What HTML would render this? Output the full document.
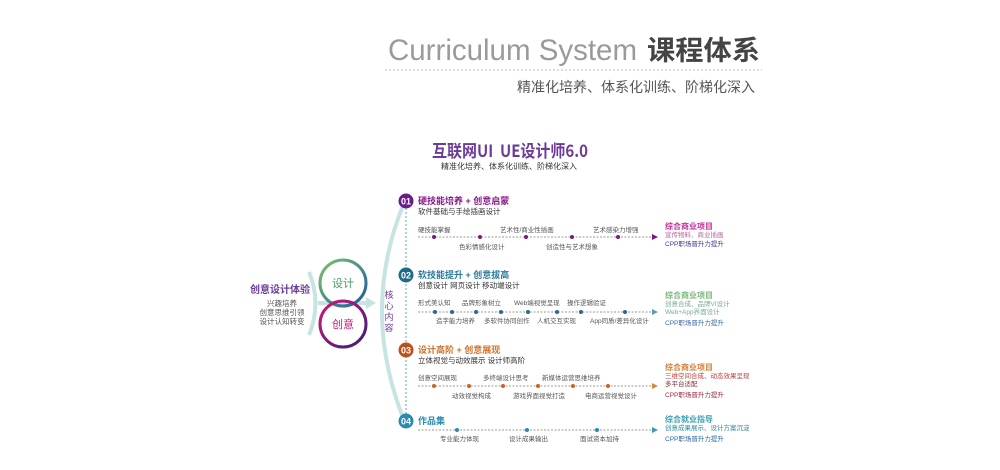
<!DOCTYPE html>
<html><head><meta charset="utf-8"><style>
html,body{margin:0;padding:0;background:#fff;width:1000px;height:470px;overflow:hidden}
svg{display:block}
text{font-family:"Liberation Sans","Noto Sans CJK SC",sans-serif}
.cj{font-family:"Noto Sans CJK SC",sans-serif}
</style></head><body>
<svg width="1000" height="470" viewBox="0 0 1000 470" xmlns="http://www.w3.org/2000/svg">
<defs>
<linearGradient id="g1" x1="0" y1="0" x2="1" y2="1"><stop offset="0" stop-color="#7cc46a"/><stop offset="1" stop-color="#1d5aa0"/></linearGradient>
<linearGradient id="g2" x1="0" y1="0" x2="1" y2="1"><stop offset="0" stop-color="#d0187a"/><stop offset="1" stop-color="#3a1c7a"/></linearGradient>
</defs>
<!-- header -->
<text x="388" y="60" font-size="30" fill="#9a9a9a" textLength="249" lengthAdjust="spacingAndGlyphs">Curriculum System</text>
<text x="647" y="60" font-size="27" font-weight="bold" fill="#444" class="cj" textLength="113" lengthAdjust="spacingAndGlyphs">课程体系</text>
<line x1="385" y1="70" x2="762" y2="70" stroke="#bbb" stroke-width="1" stroke-dasharray="2,2"/>
<text x="755" y="92" font-size="14" fill="#555" text-anchor="end" class="cj">精准化培养、体系化训练、阶梯化深入</text>
<!-- main title -->
<text x="432" y="157" font-size="17" font-weight="bold" fill="#6b3b9a" class="cj" textLength="156" lengthAdjust="spacingAndGlyphs">互联网UI&#160;&#160;UE设计师6.0</text>
<text x="441" y="169" font-size="8" fill="#333" class="cj" textLength="136" lengthAdjust="spacingAndGlyphs">精准化培养、体系化训练、阶梯化深入</text>
<!-- left -->
<text x="280" y="293" font-size="10" fill="#6b3b9a" text-anchor="middle" font-weight="bold" class="cj">创意设计体验</text>
<text x="282" y="306" font-size="7.5" fill="#555" text-anchor="middle" class="cj">兴趣培养</text>
<text x="282" y="315" font-size="7.5" fill="#555" text-anchor="middle" class="cj">创意思维引领</text>
<text x="282" y="324" font-size="7.5" fill="#555" text-anchor="middle" class="cj">设计认知转变</text>
<path d="M309 272 Q322 303 309 335" fill="none" stroke="#c7e3e2" stroke-width="4"/>
<line x1="318" y1="303" x2="368" y2="303" stroke="#c7e3e2" stroke-width="4"/>
<polygon points="366,297 376,303 366,309" fill="#c7e3e2"/>
<circle cx="343" cy="283" r="23" fill="none" stroke="url(#g1)" stroke-width="3"/>
<circle cx="343" cy="324" r="23" fill="none" stroke="url(#g2)" stroke-width="3"/>
<text x="343" y="287" font-size="11" fill="#4a9a6a" text-anchor="middle" class="cj">设计</text>
<text x="343" y="328" font-size="11" fill="#c0207a" text-anchor="middle" class="cj">创意</text>
<!-- big arc -->
<path d="M404 203 Q360 310 404 420" fill="none" stroke="#c7e3e2" stroke-width="4"/>
<text x="389" y="298" font-size="9" fill="#6b3b9a" text-anchor="middle" class="cj">核</text>
<text x="389" y="309" font-size="9" fill="#6b3b9a" text-anchor="middle" class="cj">心</text>
<text x="389" y="320" font-size="9" fill="#6b3b9a" text-anchor="middle" class="cj">内</text>
<text x="389" y="331" font-size="9" fill="#6b3b9a" text-anchor="middle" class="cj">容</text>
<line x1="406" y1="208" x2="406" y2="414" stroke="#a9d6d9" stroke-width="2" stroke-dasharray="2,2"/>
<!-- numbered circles -->
<circle cx="406" cy="201" r="7.5" fill="#6a1a8a"/><text x="406" y="204.5" font-size="9" fill="#fff" text-anchor="middle" font-weight="bold">01</text>
<circle cx="406" cy="275" r="7.5" fill="#1f6a8a"/><text x="406" y="278.5" font-size="9" fill="#fff" text-anchor="middle" font-weight="bold">02</text>
<circle cx="406" cy="350" r="7.5" fill="#c0501a"/><text x="406" y="353.5" font-size="9" fill="#fff" text-anchor="middle" font-weight="bold">03</text>
<circle cx="406" cy="421" r="7.5" fill="#2a8ab0"/><text x="406" y="424.5" font-size="9" fill="#fff" text-anchor="middle" font-weight="bold">04</text>

<g class="cj">
<!-- row1 -->
<text x="418" y="204" font-size="9" font-weight="bold" fill="#8a1a8a">硬技能培养 + 创意启蒙</text>
<text x="418" y="214" font-size="7.5" fill="#333">软件基础与手绘插画设计</text>
<g font-size="6.5" fill="#555">
<text x="418" y="232">硬技能掌握</text><text x="500" y="232">艺术性/商业性插画</text><text x="593" y="232">艺术感染力增强</text>
<text x="459" y="249">色彩情感化设计</text><text x="546" y="249">创造性与艺术想象</text>
</g>
<line x1="418" y1="237" x2="653" y2="237" stroke="#999" stroke-dasharray="2,1.5" stroke-width="1"/>
<polygon points="652,234 658,237 652,240" fill="#7a1a7a"/>
<g fill="#7a1a7a"><circle cx="434" cy="237" r="2"/><circle cx="480" cy="237" r="2"/><circle cx="526" cy="237" r="2"/><circle cx="572" cy="237" r="2"/><circle cx="618" cy="237" r="2"/></g>
<text x="665" y="229" font-size="8" font-weight="bold" fill="#c0309a">综合商业项目</text>
<text x="665" y="237" font-size="6.5" fill="#c060a0">宣传物料、商业插画</text>
<text x="665" y="246" font-size="6.5" fill="#3a3a9a">CPP职场晋升力提升</text>

<!-- row2 -->
<text x="418" y="278" font-size="9" font-weight="bold" fill="#2a7a9a">软技能提升 + 创意拔高</text>
<text x="418" y="288" font-size="7.5" fill="#333">创意设计 网页设计 移动端设计</text>
<g font-size="6.5" fill="#555">
<text x="418" y="305">形式美认知</text><text x="462" y="305">品牌形象树立</text><text x="514" y="305">Web端视觉呈现</text><text x="567" y="305">操作逻辑验证</text>
<text x="436" y="323">造字能力培养</text><text x="484" y="323">多软件协同创作</text><text x="537" y="323">人机交互实现</text><text x="590" y="323">App同质/差异化设计</text>
</g>
<line x1="418" y1="312" x2="653" y2="312" stroke="#999" stroke-dasharray="2,1.5"/>
<polygon points="652,309 658,312 652,315" fill="#5aa0a0"/>
<g fill="#2a6a8a"><circle cx="435" cy="312" r="2"/><circle cx="452" cy="312" r="2"/><circle cx="476" cy="312" r="2"/><circle cx="501" cy="312" r="2"/><circle cx="528" cy="312" r="2"/><circle cx="557" cy="312" r="2"/><circle cx="581" cy="312" r="2"/><circle cx="625" cy="312" r="2"/></g>
<text x="665" y="298" font-size="8" font-weight="bold" fill="#7ab87a">综合商业项目</text>
<text x="665" y="306" font-size="6.5" fill="#7aaa9a">创意合成、品牌VI设计</text>
<text x="665" y="314" font-size="6.5" fill="#7aaa9a">Web+App界面设计</text>
<text x="665" y="325" font-size="6.5" fill="#3a6aaa">CPP职场晋升力提升</text>

<!-- row3 -->
<text x="418" y="353" font-size="9" font-weight="bold" fill="#d0702a">设计高阶 + 创意展现</text>
<text x="418" y="363" font-size="7.5" fill="#333">立体视觉与动效展示 设计师高阶</text>
<g font-size="6.5" fill="#555">
<text x="418" y="380">创意空间展现</text><text x="483" y="380">多终端设计思考</text><text x="542" y="380">新媒体运营思维培养</text>
<text x="452" y="398">动效视觉构成</text><text x="513" y="398">游戏界面视觉打造</text><text x="585" y="398">电商运营视觉设计</text>
</g>
<line x1="418" y1="386" x2="653" y2="386" stroke="#999" stroke-dasharray="2,1.5"/>
<polygon points="652,383 658,386 652,389" fill="#d08a3a"/>
<g fill="#d0602a"><circle cx="434" cy="386" r="2"/><circle cx="469" cy="386" r="2"/><circle cx="503" cy="386" r="2"/><circle cx="538" cy="386" r="2"/><circle cx="573" cy="386" r="2"/><circle cx="608" cy="386" r="2"/></g>
<text x="665" y="370" font-size="8" font-weight="bold" fill="#d0803a">综合商业项目</text>
<text x="665" y="378" font-size="6.5" fill="#c04040">三维空间合成、动态效果呈现</text>
<text x="665" y="386" font-size="6.5" fill="#8a2a2a">多平台适配</text>
<text x="665" y="397" font-size="6.5" fill="#a02a3a">CPP职场晋升力提升</text>

<!-- row4 -->
<text x="418" y="424" font-size="9" font-weight="bold" fill="#2a8ab0">作品集</text>
<g font-size="6.5" fill="#555">
<text x="440" y="441">专业能力体现</text><text x="509" y="441">设计成果输出</text><text x="580" y="441">面试资本加持</text>
</g>
<line x1="418" y1="430" x2="653" y2="430" stroke="#999" stroke-dasharray="2,1.5"/>
<polygon points="652,427 658,430 652,433" fill="#3a9ab0"/>
<g fill="#2a8ab0"><circle cx="457" cy="430" r="2"/><circle cx="527" cy="430" r="2"/><circle cx="597" cy="430" r="2"/></g>
<text x="665" y="422" font-size="8" font-weight="bold" fill="#3aa0b0">综合就业指导</text>
<text x="665" y="430" font-size="6.5" fill="#2a8aa0">创意成果展示、设计方案沉淀</text>
<text x="665" y="441" font-size="6.5" fill="#2a6aa0">CPP职场晋升力提升</text>
</g>
</svg>
</body></html>
